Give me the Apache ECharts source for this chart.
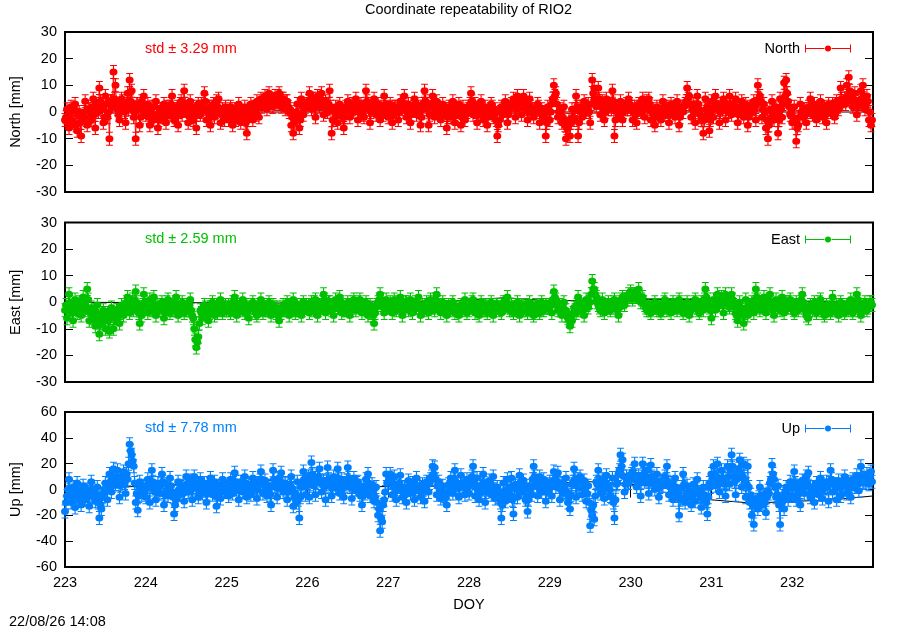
<!DOCTYPE html>
<html>
<head>
<meta charset="utf-8">
<title>Coordinate repeatability of RIO2</title>
<script src="https://cdn.jsdelivr.net/npm/echarts@6/dist/echarts.min.js"></script>
<style>
html, body { margin: 0; padding: 0; background: #fff; }
#chart { width: 900px; height: 630px; }
</style>
</head>
<body>
<div id="chart"></div>
<script>
// epochs: DOY 223.000 .. 232.9875, one sample every 0.0125 day
// the *A arrays hold the epochs 223.000, 223.025, ... and the *B arrays
// the epochs in between (223.0125, 223.0375, ...); one row per day
var doyStart = 223;
var doyStep = 0.025;

var northA = [
  -3, 1, -6, 2, -4, 3, -7, 0, -9, -2, 4, -5, 1, -3, 5, -6, 2, 9, 3, -4, 6, -2, -10, 4, 15, 10, 1, -3, 5, 2, -4, 7, 12, 8, -2, -10, 3, -5, 4, 6,
  -1, 3, -5, 2, -3, 4, -6, 1, -2, 3, -4, 0, 2, 6, -3, 1, -5, 3, -1, 8, 2, -4, 4, -2, 1, -6, 3, -1, 2, 7, -3, 0, -5, 2, -2, 4, 5, -4, 1, -3,
  0, -3, 2, -5, 1, -2, 3, -4, 0, 2, -8, -1, 3, -3, 1, 4, -2, 5, 3, 6, 1, 7, 4, 2, 6, 3, 7, 2, 5, 1, 4, 0, -5, -8, -2, 3, -6, 5, -1, 2,
  3, 7, 1, 5, -2, 6, 2, 7, -1, 4, 0, 8, -8, -3, 2, -4, 3, -1, -6, 2, 4, -2, 3, 0, 5, -3, 2, 1, -2, 8, 3, -4, 2, 5, -1, 3, -3, 1, 6, 0,
  -2, 3, -4, 2, 0, -3, 4, 1, 6, -2, 3, -4, 1, 5, -1, 2, -5, 3, 8, 1, -5, 2, 6, -2, 4, 0, -3, 3, 1, -6, 2, -2, 4, -4, 1, 3, -5, 2, -3, 0,
  2, 7, -1, 3, -4, 1, 4, -3, 2, -5, 0, 3, -2, 1, -9, -3, 2, -1, 4, -4, 1, 3, 5, -2, 6, 2, -1, 6, 3, -3, 5, 1, -2, 0, 3, -4, 1, -2, -9, 2,
  -3, 3, 10, 7, -2, 1, -4, 2, -10, -6, -9, 1, -3, 6, -9, 2, -2, 4, 0, 3, -4, 12, 9, 2, 9, -1, 4, -3, 5, 1, 3, 8, -9, 2, -1, 4, -3, 1, 3, 5,
  1, -3, 2, -4, 3, 0, 5, -2, 4, 5, -3, 1, -5, 2, 0, -3, 4, -1, 2, -4, 3, 1, -2, 4, -5, 2, 0, 3, 9, 6, -2, 3, -4, 6, 1, -3, -8, 5, 2, -7,
  4, -2, 6, 1, -4, 3, 5, -3, 2, 6, -1, 3, 5, -4, 1, 4, -2, 3, -5, 2, 0, 4, -3, 10, 6, -2, 3, -6, -10, 1, 4, -3, 2, -8, 5, -2, 11, 12, 4, -1,
  -4, 2, -11, -5, 3, -2, 1, -4, 2, 5, -1, 3, -3, 1, 4, -2, 2, -4, 3, 0, 3, -2, 4, 1, 9, 3, 5, 10, 13, 6, 2, 7, -1, 4, 8, 10, 1, 6, -3, -5
];
var northB = [
  -2, -4, 0, -3, 1, -5, -1, -4, -2, 0, -3, 1, -2, 2, -1, 3, 0, 4, 1, -2, 3, 0, 4, 2, 5, 3, -1, 2, 4, 0, 3, 1, 4, 2, 0, 3, 1, -2, 2, 0,
  1, -2, 0, -3, 2, -1, -3, 0, 1, -2, 2, -1, 3, 1, -2, 2, 0, 4, 1, 3, -1, 0, 2, -3, -1, 2, 0, 3, 1, 4, 0, 2, -1, 3, 0, 2, 1, -1, 0, 2,
  -1, 1, -2, 0, -3, 1, -1, 0, -2, -4, -3, 1, 0, 2, -1, 2, 3, 2, 4, 3, 5, 4, 2, 5, 4, 6, 3, 5, 3, 4, 2, 1, -2, -4, 0, -1, -3, 2, 1, 3,
  4, 3, 5, 2, 3, 4, 5, 3, 2, 1, 3, 2, -3, 0, -1, 1, 0, -2, -2, 1, 2, 0, 1, 3, 2, 0, 3, -1, 2, 4, 1, 0, 3, 2, 1, 0, 2, -1, 3, 2,
  0, 1, -1, 2, 1, 0, 2, 3, 2, 0, 1, -1, 2, 3, 1, 0, -2, 2, 4, 3, -1, 3, 2, 0, 2, 1, -1, 1, 0, -2, 1, 0, 2, -1, 0, 1, -2, 0, -1, 1,
  3, 4, 1, 0, -1, 2, 1, -1, 0, -2, 1, 2, -1, -3, -5, 0, 1, 2, 1, -1, 2, 3, 2, 1, 3, 4, 2, 3, 1, 0, 2, 1, 0, 1, 2, 0, -1, 0, -4, 0,
  0, 5, 6, 3, 0, -1, -2, -5, -6, -3, -4, -2, 1, 2, -4, 0, 1, 2, 1, 0, 3, 7, 5, 4, 5, 2, 1, 0, 2, 3, 1, 4, -3, 0, 1, 2, 0, 2, 1, 3,
  2, 0, -1, 1, 2, 1, 3, 2, 1, 3, 0, -1, -2, 0, 1, -1, 2, 1, 0, -1, 1, 2, 0, 1, -2, 0, 2, 4, 5, 3, 1, 0, 2, 3, -1, -2, -3, 1, -1, -3,
  1, 2, 3, 2, 0, 1, 3, 1, 0, 3, 2, 1, 2, -1, 2, 1, 0, 1, -2, 1, 2, 1, 3, 5, 4, 1, 0, -3, -5, -2, 1, 0, -1, -3, 1, 3, 6, 7, 2, 0,
  -2, -4, -6, -2, 0, 1, -1, 0, 1, 2, 0, 1, -1, 2, 1, 0, -1, 0, 1, 2, 1, 0, 2, 3, 5, 4, 3, 6, 8, 4, 3, 4, 2, 3, 5, 6, 3, 4, 0, -3
];
var eastA = [
  -3, -6, 3, -2, -7, 1, -4, 0, -5, 2, -3, 5, -7, -2, -5, -9, -1, -12, -6, -3, -10, -4, -11, -2, -10, -6, -3, -8, -1, -5, -2, 2, -4, 0, -3, 4, -2, -8, -5, 3,
  -1, -4, 1, -3, 2, -5, -1, -3, 0, -6, -2, 1, -4, -1, -3, 2, -5, -2, 0, -4, -1, -3, 1, -5, -10, -17, -13, -3, -6, -1, -4, -7, -2, 0, -5, -1, -3, 1, -4, -2,
  -3, -1, -4, 0, 2, -5, -2, -3, 1, -4, -1, -6, -2, 0, -3, -5, -1, 1, -4, -2, -3, 0, -5, -1, -3, -2, -7, -4, -1, -3, 0, -5, -2, 1, -4, -1, -3, -5, 0, -2,
  -2, -4, 0, -3, 1, -5, -1, -2, 3, -4, -1, 0, -3, -5, 1, -2, 2, -4, -1, -3, 0, -5, -2, 1, -3, -1, 1, -4, -2, 0, -5, -1, -3, -8, -2, 0, 3, -1, -4, 1,
  -2, 0, -4, 1, -3, -1, 2, -5, -2, 0, -3, 1, -4, -1, -2, 2, -5, -1, -3, 0, -4, 1, -2, -3, 3, -1, -4, 0, -2, -5, -1, -3, 0, -4, -2, -5, -1, -3, 1, -4,
  -3, -1, 1, -4, -2, -5, 0, -3, -1, -4, -2, 0, -5, -2, -1, -3, -4, 0, -2, 2, -3, -1, -4, -2, 0, -5, -1, -3, -2, -4, 0, -3, -5, -1, -2, -4, 0, -3, -1, -2,
  -2, -4, 4, 1, -3, -1, -5, 0, -3, -6, -9, -7, -2, -4, 2, -3, -1, -5, 1, -2, 0, 8, 5, 2, -1, -3, 1, -4, -2, 0, -3, -1, 1, -2, -5, 0, 2, -1, 1, 3,
  4, 1, 3, 2, 5, 0, 2, -1, -3, -1, -4, -2, 0, -3, -1, -4, -2, 1, -3, -1, -4, 0, -2, -3, 1, -1, -4, -2, 0, -5, -3, -1, 1, -2, -4, 0, -3, 5, 1, -2,
  -6, 1, -3, 3, -1, 2, -4, 3, 0, -2, 3, -1, -4, -7, 0, -3, -8, 1, -5, -2, 0, -4, 5, 1, -3, -1, 2, -4, 0, 3, -2, -5, 1, -1, -3, 2, -4, 0, -2, 1,
  -2, -4, 0, -3, -1, 3, -2, -5, -6, -1, -3, 0, -4, -2, 1, -3, -5, -1, -2, -4, 2, -3, -1, -5, 0, -2, -4, -1, -3, 1, -4, -2, 3, -1, -5, -2, 0, -3, -1, 0
];
var eastB = [
  -1, -3, 0, -4, -2, -1, -3, -2, -1, 0, -2, 1, -4, -6, -3, -7, -5, -8, -4, -7, -5, -7, -6, -4, -6, -3, -5, -4, -3, -2, 0, -1, -2, 1, -1, 0, -4, -3, -1, 0,
  -2, -1, -2, 0, -1, -3, -2, -1, -3, -4, 0, -2, -3, -2, 0, -1, -3, -1, -2, -3, -2, -1, -3, -6, -14, -15, -8, -4, -3, -2, -5, -4, -1, -3, -2, -4, -1, -2, -3, -1,
  -2, -3, -1, -2, 0, -3, -1, -2, -2, -1, -3, -2, -1, -2, -4, -2, -3, -1, -2, -3, -1, -2, -3, -2, -4, -5, -4, -2, -3, -1, -2, -3, -1, -2, -3, -2, -1, -3, -2, -1,
  -1, -2, -1, 0, -2, -3, -2, 0, 1, -2, 0, -2, -1, -2, -1, 0, 0, -2, -3, -1, -2, -3, 0, -1, -2, 0, -1, -2, -1, -3, -2, -4, -5, -4, -1, 1, 1, -2, -1, -1,
  -1, -2, -1, -2, 0, -2, -1, -3, 0, -1, -1, -2, -2, 0, -1, -1, -3, -2, -1, -2, -1, -2, 0, 1, 0, -2, -2, -1, -3, -2, -2, -1, -2, -2, -3, -3, -2, -1, -2, -2,
  -2, 0, -1, -2, -3, -2, -1, -2, -3, -2, -1, -3, -2, -1, -2, -2, -1, -1, 0, -1, -2, -3, -2, -1, -3, -2, -3, -2, -1, -2, -2, -4, -3, -2, -3, -1, -2, -2, -1, -1,
  -1, 1, 2, -1, -2, -3, -2, -3, -5, -7, -6, -4, -3, -1, 0, -2, -3, -2, -1, 0, 3, 5, 3, 0, -2, -1, -2, -1, -1, -2, -2, 0, -1, -3, -2, 1, 0, 1, 2, 2,
  2, 3, 2, 3, 2, 1, 0, -2, -2, -3, -2, -1, -2, -2, -3, -3, 0, -1, -2, -2, -2, -1, -2, -1, 0, -2, -3, -1, -2, -3, -2, 0, -1, -3, -2, -1, 1, 2, -1, -3,
  -3, -1, 0, 1, 0, -1, 0, 1, -1, 0, 1, -2, -5, -3, -2, -5, -4, -2, -3, -1, -2, 1, 2, -1, -2, 0, -1, -2, 1, 0, -3, -2, -1, -2, 0, -1, -2, -1, 0, -1,
  -3, -2, -1, -2, 1, 0, -3, -4, -3, -2, -1, -2, -3, 0, -1, -4, -3, -2, -3, -1, -1, -2, -3, -2, -1, -3, -2, -2, -1, -2, -3, 0, 1, -3, -3, -1, -2, -2, 0, -1
];
var upA = [
  -17, -5, 8, -10, 2, -14, 5, -6, -12, 3, -8, 0, -13, 6, -4, -9, 2, -22, -15, -3, 5, -8, 12, -2, 16, 4, 15, -6, 10, 14, -3, 8, 35, 27, 18, -10, -16, 6, -4, 3,
  -6, 8, -10, 15, 2, -8, 5, -3, 12, -12, 4, -5, 9, -2, -19, -8, 6, -4, 3, -9, 10, -2, 7, -8, 10, 1, -6, 8, -3, 5, -10, 2, 9, -4, 6, -13, 3, -7, 8, -2,
  2, -5, 8, -3, 13, 0, -8, 6, -2, 10, -6, 4, -4, 9, 1, -7, 5, 14, -3, 7, -5, 3, -12, 15, 2, -6, 9, 13, -2, 5, -8, 4, 10, -13, -3, 6, -22, 2, 14, -4,
  5, -6, 21, 3, -4, 9, 16, -2, 7, -8, 17, 4, -5, 10, 1, 16, -3, 8, -6, 5, 17, 2, -7, 9, 0, 6, -4, -12, 3, 8, 12, -5, 4, -9, 2, -20, -32, -25, -8, 12,
  5, 12, -4, 10, -8, 3, 11, -6, 2, -10, 7, -3, 5, -8, 9, 0, -6, 4, -9, 6, -2, 8, 18, 17, -4, 6, -7, 3, -5, -12, 4, 9, -3, 15, 1, -6, 11, 2, -4, 8,
  -3, 6, 18, -5, 9, -8, 3, 12, -10, 1, 7, -4, 10, -7, 2, -2, -22, 5, -9, 8, -3, 9, -19, 4, -6, 11, -2, 7, -8, -17, 3, -4, 18, 6, -5, 10, -2, 8, -9, 4,
  6, -5, 14, 2, 13, -8, 5, -3, 9, -10, -15, 4, 16, -6, 8, 10, -4, 7, -9, 3, -28, -20, -23, 6, 15, -3, 8, -7, 11, 2, -5, 9, -22, 4, 12, 27, 23, -2, 10, 5,
  8, 14, 20, 2, 11, -5, 20, 6, 15, -3, 19, 9, 0, 12, -6, 7, 3, 10, 18, -4, 5, -8, 9, -2, -20, -7, 12, -10, 3, -6, -12, 4, -9, 8, -3, -14, 2, -8, -19, 5,
  12, 18, 3, 20, -2, 15, 8, -5, 18, 4, 27, 10, -4, 13, 23, 2, 20, -6, 18, -10, -20, -27, -8, -15, 2, -12, -4, -18, -1, 5, 19, 8, -6, 3, -27, -10, -15, 2, -8, 6,
  -5, 14, -8, 3, -12, 7, -3, 10, 13, -6, 2, -10, 5, -4, 9, -7, 1, 6, -9, 15, -2, 4, -8, 7, -5, 3, 10, -3, 6, -6, 8, 2, 11, -1, 18, 5, 9, 12, 4, 14
];
var upB = [
  -10, 0, -3, -6, -2, -8, 0, -4, -6, -1, -3, -5, -2, 0, -6, -3, -10, -12, -6, 0, 2, 4, 6, 3, 8, 10, 6, 3, 7, 5, 12, 20, 30, 22, 5, -3, -5, 2, 0, -2,
  2, 4, 5, 6, -2, 0, 1, 4, 6, -4, -1, 2, 3, -6, -12, -2, 0, 2, -3, 1, 4, 3, 0, 2, 5, 4, -2, 1, 2, -1, -3, 4, 3, 0, -2, -6, -3, 0, 2, 1,
  3, 4, 2, 5, 6, 3, -1, 2, 4, 5, 1, -1, 3, 2, 4, 0, 7, 8, 4, 2, 0, -4, 3, 8, 5, 1, 6, 4, 2, 0, -2, 3, 1, -6, -10, -8, -6, 6, 8, 3,
  10, 8, 12, 6, 5, 10, 7, 4, 2, 6, 8, 3, 2, 5, 6, 8, 4, 2, 3, 7, 9, 4, 2, 3, 5, 1, -2, -5, -3, 2, 4, -1, -3, -6, -10, -15, -22, -12, -2, 5,
  8, 6, 3, 4, 0, 5, 2, -2, -4, 0, 2, 1, -2, 0, 3, 2, -1, 0, 2, 4, 5, 10, 12, 8, 3, 0, -2, -4, -6, -3, 2, 5, 8, 6, 4, 2, 5, 3, 1, 2,
  4, 10, 6, 2, 0, -3, 4, 5, -2, 3, 1, 2, 0, -2, -6, -10, -12, -4, 0, -5, 2, -8, -6, 0, 3, 2, 4, 0, -6, -8, 0, 8, 10, 3, 2, 4, 3, 1, -2, 0,
  2, 6, 8, 6, 4, 0, 1, 3, -2, -6, -4, 6, 8, 3, 2, 4, 1, 0, -3, -10, -16, -12, -5, 4, 6, 2, 3, 1, 4, 0, -6, -10, -8, 5, 15, 18, 10, 4, 6, 8,
  12, 10, 8, 6, 5, 8, 12, 10, 8, 6, 10, 4, 5, 6, 2, 3, 6, 8, 6, 2, 0, 1, 2, -5, -8, 2, 4, -4, -2, -1, -4, -3, 0, -2, -6, -5, -4, -10, -6, 2,
  8, 12, 10, 8, 6, 9, 4, 6, 10, 15, 18, 6, 8, 16, 12, 10, 8, 4, 2, -4, -12, -10, -12, -6, -8, -4, -10, -6, -3, 8, 12, 2, -4, -12, -8, -5, -2, -4, 1, 2,
  3, 5, 0, -3, 2, 4, 3, 5, 2, -2, -3, 0, 2, 0, 4, 1, 3, 2, 5, 8, 4, 2, 1, 3, 2, 6, 4, 2, 3, 4, 5, 6, 4, 8, 10, 6, 5, 8, 10, 6
];

// thin black reference line drawn behind the points [doy, mm]
var northRef = [[223, 0], [233, 0]];
var eastRef = [[223, 0], [225.7, -0.3], [227.8, 0.5], [228.45, 1.7], [229.0, 0.5], [230.5, 1.1], [233, 0]];
var upRef = [[223, 0], [225.6, 7], [226.5, 2], [228.3, 3], [229.5, 6], [230.5, 2], [231.0, -8], [231.5, -10.5], [232.5, -8], [233, -5]];

var names = ['North', 'East', 'Up'];
var stds = [3.29, 2.59, 7.78];
var yMins = [-30, -30, -60];
var yMaxs = [30, 30, 60];
var ySteps = [10, 10, 20];

var colors = ['#ff0000', '#00c000', '#0080ff'];
var gridTops = [32, 222.5, 412];
var gridHeights = [160, 159.5, 155];
var legendTops = [36, 227, 416];
var stdY = [49, 239, 428];

var font = 'Liberation Sans';
var fs = 14.5;

// merge the two epoch sets into one time-ordered [doy, mm] list
function toPairs(a, b) {
  var out = [];
  for (var i = 0; i < a.length; i++) {
    var t = doyStart + i * doyStep;
    out.push([+t.toFixed(4), a[i]]);
    out.push([+(t + doyStep / 2).toFixed(4), b[i]]);
  }
  return out;
}

var seriesA = [northA, eastA, upA];
var seriesB = [northB, eastB, upB];
var refVals = [northRef, eastRef, upRef];

// dot with a short capped error bar (8 x 14 box)
var pointSymbol = 'path://M1,0H7V1H1Z M1,13H7V14H1Z M3.5,0H4.5V14H3.5Z M7.5,7A3.5,3.5 0 1,1 0.5,7A3.5,3.5 0 1,1 7.5,7Z';
// error-bar style key: capped line with a dot in the middle
var legendIcon = 'path://M0,1H1V9H0Z M45,1H46V9H45Z M0,4.5H19.5V5.5H0Z M26.5,4.5H46V5.5H26.5Z M26,5A3,3 0 1,1 20,5A3,3 0 1,1 26,5Z';

var grids = [], xAxes = [], yAxes = [], series = [], legends = [], graphics = [];

for (var p = 0; p < 3; p++) {
  grids.push({
    left: 64, top: gridTops[p], width: 809, height: gridHeights[p],
    show: true, borderColor: '#000', borderWidth: 2, backgroundColor: 'transparent'
  });

  xAxes.push({
    gridIndex: p, type: 'value', min: 223, max: 233, interval: 1,
    show: p === 2, position: 'bottom',
    axisLine: { show: false },
    axisTick: { inside: true, length: 8, lineStyle: { color: '#000' } },
    axisLabel: { margin: 8, fontSize: fs, color: '#000', fontFamily: font, showMaxLabel: false },
    splitLine: { show: false },
    name: p === 2 ? 'DOY' : '', nameLocation: 'middle', nameGap: 30,
    nameTextStyle: { fontSize: fs, color: '#000', fontFamily: font }
  });

  yAxes.push({
    gridIndex: p, type: 'value', min: yMins[p], max: yMaxs[p], interval: ySteps[p],
    position: 'left',
    axisLine: { show: false },
    axisTick: { inside: true, length: 8, lineStyle: { color: '#000' } },
    axisLabel: { margin: 8, fontSize: fs, color: '#000', fontFamily: font },
    splitLine: { show: false },
    name: names[p] + ' [mm]', nameLocation: 'middle', nameRotate: 90, nameGap: 42,
    nameTextStyle: { fontSize: fs, color: '#000', fontFamily: font }
  });
  yAxes.push({
    gridIndex: p, type: 'value', min: yMins[p], max: yMaxs[p], interval: ySteps[p],
    position: 'right',
    axisLine: { show: false },
    axisTick: { inside: true, length: 8, lineStyle: { color: '#000' } },
    axisLabel: { show: false },
    splitLine: { show: false }
  });

  var pts = toPairs(seriesA[p], seriesB[p]);

  series.push({
    name: names[p] + ' ref', type: 'line', xAxisIndex: p, yAxisIndex: 2 * p,
    data: refVals[p], symbol: 'none', silent: true, z: 1,
    lineStyle: { width: 1, color: '#000' }
  });
  series.push({
    name: names[p] + ' link', type: 'line', xAxisIndex: p, yAxisIndex: 2 * p,
    data: pts, symbol: 'none', silent: true, z: 2,
    lineStyle: { width: 1, color: colors[p] }
  });
  series.push({
    name: names[p], type: 'scatter', xAxisIndex: p, yAxisIndex: 2 * p,
    data: pts, symbol: pointSymbol, symbolSize: [8, 14], silent: true, z: 3,
    itemStyle: { color: colors[p], opacity: 1 }
  });

  legends.push({
    data: [{ name: names[p], icon: legendIcon }],
    right: 44, top: legendTops[p], align: 'right',
    itemWidth: 46, itemHeight: 10, selectedMode: false,
    textStyle: { fontSize: fs, color: '#000', fontFamily: font }
  });

  graphics.push({
    type: 'text', x: 145, y: stdY[p],
    style: {
      text: 'std \u00b1 ' + stds[p].toFixed(2) + ' mm',
      fill: colors[p], fontSize: fs, fontFamily: font, verticalAlign: 'middle'
    }
  });
}

// top mirror ticks of the bottom panel
xAxes.push({
  gridIndex: 2, type: 'value', min: 223, max: 233, interval: 1, position: 'top',
  axisLine: { show: false },
  axisTick: { inside: true, length: 8, lineStyle: { color: '#000' } },
  axisLabel: { show: false },
  splitLine: { show: false }
});

graphics.push({
  type: 'text', x: 468.5, y: 10,
  style: { text: 'Coordinate repeatability of RIO2', fill: '#000', fontSize: fs, fontFamily: font, align: 'center', verticalAlign: 'middle' }
});
graphics.push({
  type: 'text', x: 9, y: 622,
  style: { text: '22/08/26 14:08', fill: '#000', fontSize: fs, fontFamily: font, verticalAlign: 'middle' }
});

var chart = echarts.init(document.getElementById('chart'));
chart.setOption({
  animation: false,
  backgroundColor: '#fff',
  grid: grids,
  xAxis: xAxes,
  yAxis: yAxes,
  legend: legends,
  graphic: graphics,
  series: series
});
</script>
</body>
</html>
